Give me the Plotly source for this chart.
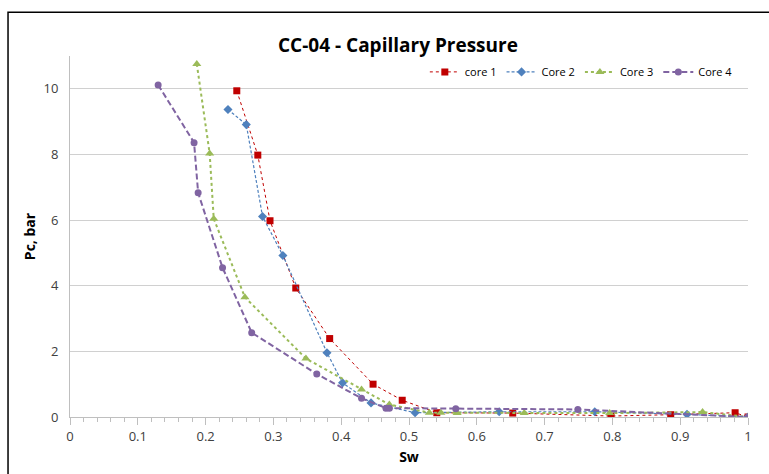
import plotly.graph_objects as go

core1_sw = [0.246, 0.277, 0.295, 0.333, 0.383, 0.447, 0.490, 0.541, 0.653, 0.798, 0.886, 0.981, 1.0]
core1_pc = [9.94, 7.98, 5.98, 3.93, 2.39, 1.00, 0.51, 0.13, 0.12, 0.03, 0.07, 0.13, 0.0]

core2_sw = [0.233, 0.260, 0.284, 0.314, 0.379, 0.402, 0.444, 0.509, 0.633, 0.774, 0.910, 1.0]
core2_pc = [9.37, 8.91, 6.11, 4.92, 1.96, 1.04, 0.43, 0.13, 0.16, 0.16, 0.08, 0.0]

core3_sw = [0.187, 0.206, 0.212, 0.258, 0.348, 0.430, 0.471, 0.530, 0.547, 0.571, 0.670, 0.796, 0.933, 1.0]
core3_pc = [10.76, 8.03, 6.04, 3.65, 1.78, 0.84, 0.38, 0.13, 0.13, 0.12, 0.12, 0.12, 0.15, 0.0]

core4_sw = [0.130, 0.183, 0.189, 0.225, 0.268, 0.364, 0.430, 0.466, 0.471, 0.569, 0.749, 1.0]
core4_pc = [10.12, 8.36, 6.83, 4.55, 2.57, 1.31, 0.57, 0.27, 0.27, 0.25, 0.23, 0.0]

x_ticks = [0, 0.1, 0.2, 0.3, 0.4, 0.5, 0.6, 0.7, 0.8, 0.9, 1]
y_ticks = [0, 2, 4, 6, 8, 10]

fig = go.Figure()
fig.add_trace(go.Scatter(x=core1_sw, y=core1_pc, name="core 1", mode="lines+markers",
                         line=dict(color="#C00000", width=1, dash="dot"),
                         marker=dict(symbol="square", size=7, color="#C00000")))
fig.add_trace(go.Scatter(x=core2_sw, y=core2_pc, name="Core 2", mode="lines+markers",
                         line=dict(color="#4F81BD", width=1.2, dash="3px,2px"),
                         marker=dict(symbol="diamond", size=7, color="#4F81BD")))
fig.add_trace(go.Scatter(x=core3_sw, y=core3_pc, name="Core 3", mode="lines+markers",
                         line=dict(color="#9BBB59", width=2, dash="dot"),
                         marker=dict(symbol="triangle-up", size=8, color="#9BBB59")))
fig.add_trace(go.Scatter(x=core4_sw, y=core4_pc, name="Core 4", mode="lines+markers",
                         line=dict(color="#8064A2", width=2, dash="6px,3px"),
                         marker=dict(symbol="circle", size=7, color="#8064A2")))

fig.update_layout(
    width=769, height=474,
    margin=dict(l=70, r=21, t=56, b=54),
    paper_bgcolor="white", plot_bgcolor="white",
    font=dict(family="Open Sans", size=12, color="#404040"),
    title=dict(text="<b>CC-04 - Capillary Pressure</b>", x=0.5175, xanchor="center",
               y=0.905, yanchor="middle", font=dict(size=19, color="#000000")),
    legend=dict(orientation="h", x=0.985, xanchor="right", y=0.956, yanchor="middle",
                font=dict(size=11, color="#000000"), itemwidth=30,
                bgcolor="rgba(0,0,0,0)", tracegroupgap=0),
    showlegend=True,
)
fig.update_xaxes(range=[0, 1], tickvals=x_ticks, ticktext=[str(t) for t in x_ticks],
                 showline=True, linecolor="#BFBFBF", linewidth=1,
                 ticks="outside", ticklen=7, tickcolor="#BFBFBF",
                 minor=dict(dtick=0.02, ticks="outside", ticklen=4, tickcolor="#BFBFBF", showgrid=False),
                 showgrid=False, zeroline=False,
                 tickfont=dict(size=13, color="#404040"),
                 title=dict(text="<b>Sw</b>", font=dict(size=14, color="#000000"), standoff=8))
fig.update_yaxes(range=[0, 11], tickvals=y_ticks, ticktext=[str(t) for t in y_ticks],
                 showline=True, linecolor="#BFBFBF", linewidth=1,
                 ticks="", showgrid=True, gridcolor="#D0D0D0", gridwidth=1, zeroline=False,
                 tickfont=dict(size=13, color="#404040"), ticklabelstandoff=8,
                 title=dict(text="<b>Pc, bar</b>", font=dict(size=14, color="#000000"), standoff=4))

# chart-area border (partially visible)
fig.add_shape(type="rect", xref="paper", yref="paper", x0=-0.0914, y0=-0.3, x1=1.2, y1=1.1209,
              line=dict(color="#000000", width=1.5), fillcolor="rgba(0,0,0,0)", layer="above")

fig.write_html("out.html")
